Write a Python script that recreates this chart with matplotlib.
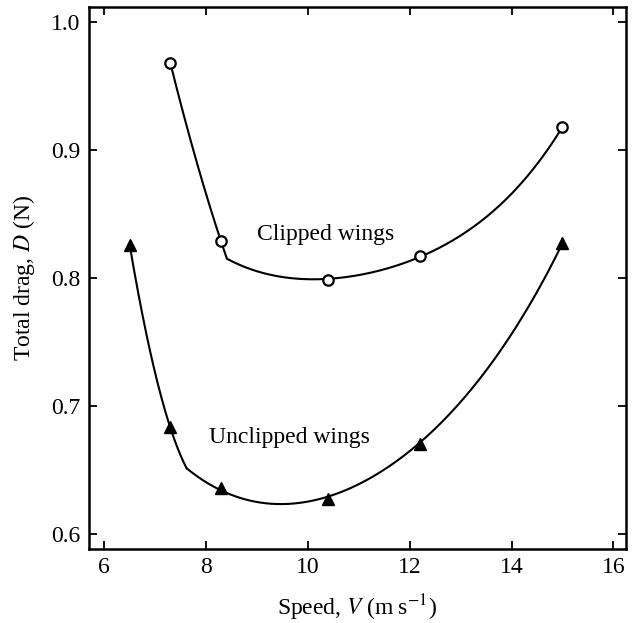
import numpy as np
import matplotlib
matplotlib.use("Agg")
import matplotlib.pyplot as plt

plt.rcParams['font.family'] = ['Liberation Serif', 'DejaVu Serif']
plt.rcParams['mathtext.fontset'] = 'stix'

# measured points
speed = [7.3, 8.3, 10.4, 12.2, 15.0]
drag_clipped = [0.968, 0.829, 0.798, 0.817, 0.918]
speed_unclipped = [6.5, 7.3, 8.3, 10.4, 12.2, 15.0]
drag_unclipped = [0.826, 0.683, 0.636, 0.627, 0.670, 0.827]

# hand-drawn fit curves (two pieces each, meeting at a kink)
clip_a_x = [7.3, 7.75, 8.41]
clip_a_y = [0.968, 0.900, 0.815]
clip_b_x = [8.41, 9.39, 10.4, 11.36, 12.2, 13.13, 13.78, 14.43, 15.0]
clip_b_y = [0.815, 0.802, 0.798, 0.806, 0.817, 0.836, 0.856, 0.887, 0.918]
unclip_a_x = [6.5, 6.82, 7.04, 7.28, 7.62]
unclip_a_y = [0.826, 0.759, 0.720, 0.683, 0.651]
unclip_b_x = [7.62, 8.3, 9.52, 10.4, 11.29, 12.2, 12.7, 13.35, 14.07, 14.82, 15.0]
unclip_b_y = [0.651, 0.636, 0.622, 0.627, 0.647, 0.6695, 0.692, 0.720, 0.759,
              0.8115, 0.827]

fig = plt.figure(figsize=(6.35, 6.23), dpi=100)
ax = fig.add_axes([0.140, 0.119, 0.846, 0.870])


def draw_fit(xs, ys, deg):
    # pin the ends so the two pieces meet at the kink
    w = np.ones(len(xs))
    w[0] = w[-1] = 10
    c = np.polyfit(xs, ys, deg, w=w)
    xx = np.linspace(xs[0], xs[-1], 200)
    ax.plot(xx, np.polyval(c, xx), color='black', lw=1.5, zorder=2,
            solid_capstyle='round')


draw_fit(clip_a_x, clip_a_y, 2)
draw_fit(clip_b_x, clip_b_y, 4)
draw_fit(unclip_a_x, unclip_a_y, 2)
draw_fit(unclip_b_x, unclip_b_y, 4)

ax.plot(speed, drag_clipped, 'o', ms=7.5, mfc='white', mec='black', mew=1.6,
        zorder=3)
ax.plot(speed_unclipped, drag_unclipped, '^', ms=8.5, color='black', zorder=3)

ax.text(10.35, 0.834, 'Clipped wings', ha='center', va='center', fontsize=17)
ax.text(9.63, 0.675, 'Unclipped wings', ha='center', va='center', fontsize=17)

ax.set_xlim(5.7, 16.25)
ax.set_ylim(0.588, 1.012)
ax.set_xticks([6, 8, 10, 12, 14, 16])
ax.set_yticks([0.6, 0.7, 0.8, 0.9, 1.0])
ax.set_yticklabels(['0.6', '0.7', '0.8', '0.9', '1.0'])
ax.tick_params(direction='in', length=6, width=1.3, labelsize=17,
               top=True, right=True, pad=6)
for s in ax.spines.values():
    s.set_linewidth(1.8)

ax.set_xlabel('Speed, $V$ (m\u2009s$^{-1}$)', fontsize=17, labelpad=10)
ax.set_ylabel('Total drag, $D$ (N)', fontsize=17, labelpad=10)

fig.savefig('out.png', dpi=100)
